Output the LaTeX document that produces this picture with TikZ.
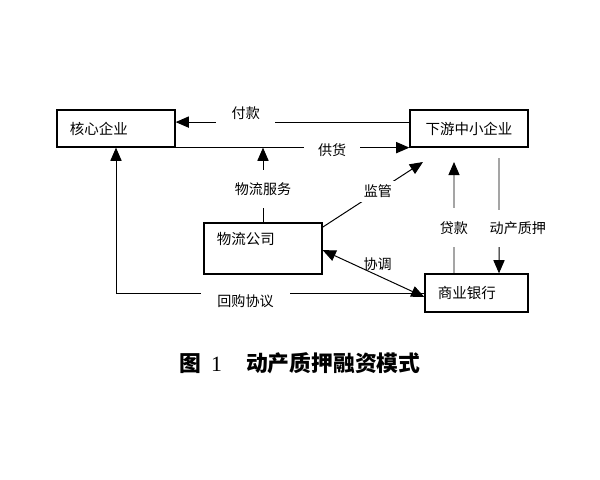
\documentclass[tikz,border=0pt]{standalone}
\usepackage{fontspec}
\newfontfamily\cjk{Noto Sans CJK SC}
\newfontfamily\shuzi{Liberation Serif}
\usetikzlibrary{arrows.meta}

\begin{document}
\begin{tikzpicture}[x=0.025cm, y=-0.025cm,
	qiye/.style={draw, line width=0.9pt, inner sep=0pt, font=\cjk\fontsize{10.3}{12}\selectfont},
	jt/.style={line width=0.7pt, -{Triangle[length=3.3mm, width=2.8mm]}},
	biao/.style={fill=white, inner sep=1pt, font=\cjk\fontsize{10}{12}\selectfont}]
	\useasboundingbox (0,0) rectangle (600,480);
	\draw (116,128.5) node[qiye, minimum width=2.95cm, minimum height=0.925cm, text width=2.3cm, align=left](hexin) {核心企业};
	\draw (469,128.5) node[qiye, minimum width=2.95cm, minimum height=0.925cm](xiayou) {下游中小企业};
	\draw (263,248.5) node[qiye, minimum width=2.95cm, minimum height=1.275cm, text width=2.3cm, align=left, text height=9pt, text depth=14pt](wuliu) {物流公司};
	\draw (476.5,293) node[qiye, minimum width=2.575cm, minimum height=0.95cm, text width=1.925cm, align=left](yinhang) {商业银行};
	\coordinate (jianguan) at (423,162);
	\coordinate (daikuan) at (454,162);
	\coordinate (zhiya) at (499,158);
	\draw[jt] ([yshift=0.16cm]xiayou.west) -- node[biao, pos=0.7, inner xsep=0.39cm, inner ysep=0.15cm, yshift=0.22cm] {付款} ([yshift=0.16cm]hexin.east);
	\draw[jt] (hexin.south east) -- node[biao, pos=0.67, inner xsep=0.35cm, yshift=-0.05cm] {供货} (xiayou.south west);
	\draw[jt] (wuliu.north) -- node[biao, pos=0.45, inner ysep=0.31cm] {物流服务} (wuliu.north |- hexin.south);
	\draw[jt] ([yshift=-0.12cm]wuliu.north east) -- node[biao, pos=0.55, inner sep=3pt] {监管} (jianguan);
	\draw[jt, {Triangle[length=3.3mm, width=2.8mm]}-{Triangle[length=3.3mm, width=2.8mm]}] ([yshift=-0.04cm]wuliu.east) -- node[pos=0.54, above, font=\cjk\fontsize{10}{12}\selectfont] {协调} ([yshift=-0.1cm]yinhang.west);
	\draw[jt] (yinhang.west) -| node[biao, pos=0.29, inner xsep=0.42cm, inner ysep=0.15cm, yshift=-0.2cm] {回购协议} (hexin.south);
	\draw[jt] ([xshift=-0.5625cm]yinhang.north) -- node[biao, pos=0.41, inner ysep=0.33cm] {贷款} (daikuan);
	\draw[jt] (zhiya) -- node[biao, pos=0.61, inner ysep=0.3cm, xshift=0.47cm] {动产质押} ([xshift=0.5625cm]yinhang.north);
	\draw (300,363) node[font=\cjk\bfseries\fontsize{15.5}{18}\selectfont](tuti) {图\hspace{7pt}{\shuzi\mdseries 1}\hspace{17pt}动产质押融资模式};
\end{tikzpicture}
\end{document}
